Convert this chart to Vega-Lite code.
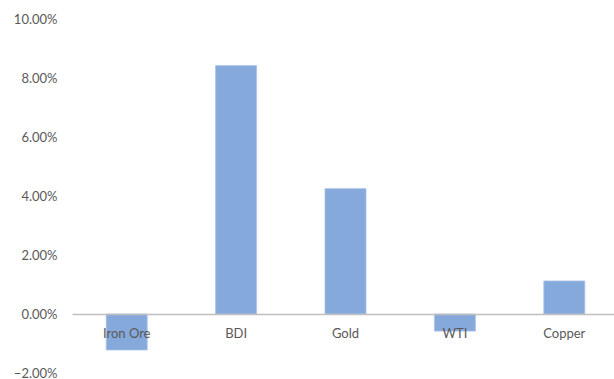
{
  "$schema": "https://vega.github.io/schema/vega-lite/v6.json",
  "autosize": "none",
  "width": 547,
  "height": 354,
  "padding": {"left": 72, "top": 19, "right": 0, "bottom": 6},
  "background": "white",
  "config": {"view": {"stroke": null}, "font": "Lato"},
  "data": {"values": [
    {"commodity": "Iron Ore", "ret": -0.0122},
    {"commodity": "BDI", "ret": 0.0842},
    {"commodity": "Gold", "ret": 0.0425},
    {"commodity": "WTI", "ret": -0.0058},
    {"commodity": "Copper", "ret": 0.0112}
  ]},
  "mark": {"type": "bar", "fill": "#86a9dc", "stroke": "#a9c3e8", "strokeWidth": 0.8},
  "encoding": {
    "x": {
      "field": "commodity", "type": "nominal", "sort": null,
      "scale": {"paddingInner": 0.625, "paddingOuter": 0.3125},
      "axis": {
        "title": null, "labelAngle": 0, "ticks": false, "offset": -59,
        "domainColor": "#bfbfbf", "domainWidth": 1.5,
        "labelColor": "#595959", "labelFontSize": 13, "labelPadding": 13,
        "zindex": 1
      }
    },
    "y": {
      "field": "ret", "type": "quantitative",
      "scale": {"domain": [-0.02, 0.1], "nice": false, "zero": false},
      "axis": {
        "title": null, "format": ".2%", "values": [-0.02, 0, 0.02, 0.04, 0.06, 0.08, 0.1],
        "grid": false, "domain": false, "ticks": false,
        "labelColor": "#595959", "labelFontSize": 13, "labelPadding": 15
      }
    }
  }
}
